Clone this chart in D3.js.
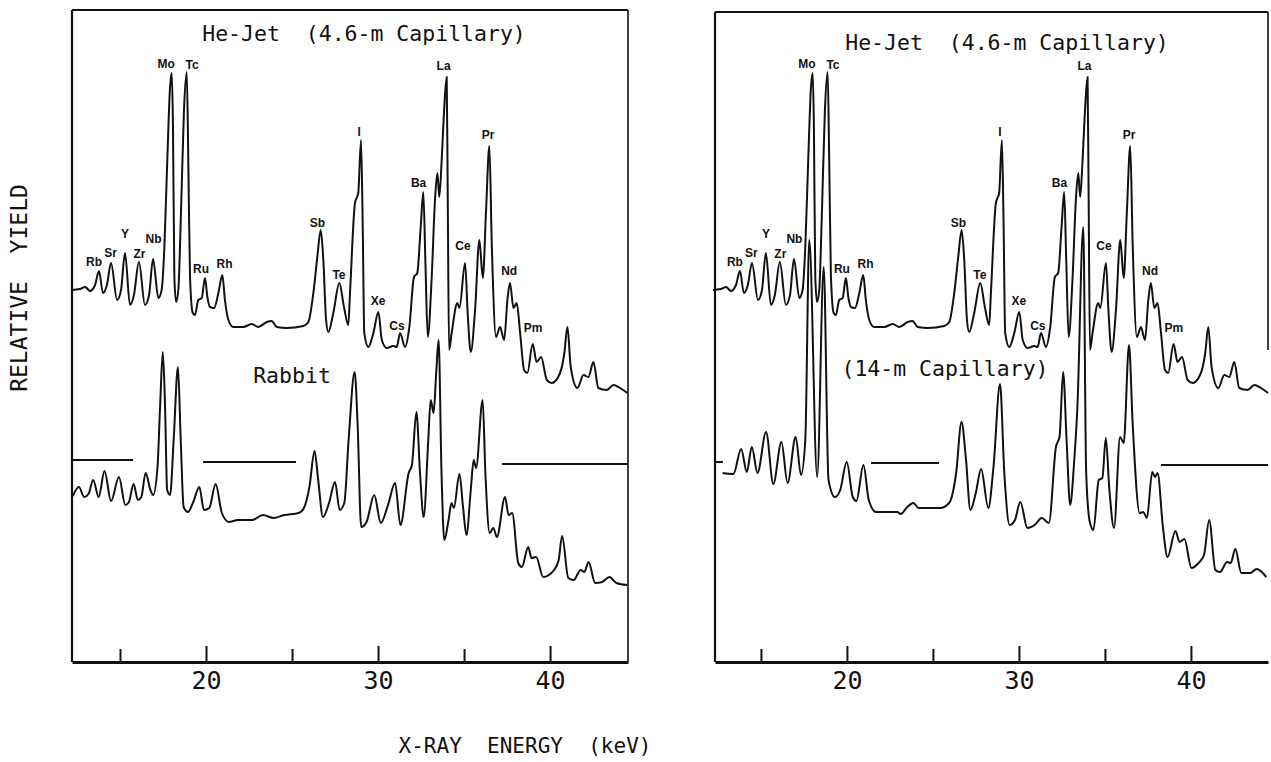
<!DOCTYPE html>
<html>
<head>
<meta charset="utf-8">
<script src="https://cdn.jsdelivr.net/npm/d3@7"></script>
<style>
  body { margin: 0; background: #fff; }
  text { font-family: "DejaVu Sans Mono", monospace; fill: #111; white-space: pre; }
  .tag { font-family: "Liberation Sans", Arial, sans-serif; font-size: 12px; font-weight: bold; }
  .curve { fill: none; stroke: #111; stroke-width: 2; stroke-linejoin: round; }
</style>
</head>
<body>
<svg id="chart" width="1271" height="762"></svg>
<script>
// He-Jet spectrum, 4.6-m capillary (same spectrum in both panels)
var heJetE = [12.21, 12.67, 12.97, 13.26, 13.55, 13.78, 14.01, 14.24, 14.48, 14.83,
  15.06, 15.29, 15.58, 15.81, 16.10, 16.45, 16.69, 16.92, 17.23, 17.42,
  17.58, 17.75, 17.91, 18.01, 18.08, 18.16, 18.26, 18.39, 18.55, 18.72,
  18.88, 18.97, 19.07, 19.23, 19.36, 19.55, 19.75, 19.94, 20.08, 20.23,
  20.47, 20.72, 20.95, 21.10, 21.30, 21.59, 22.17, 22.66, 23.04, 23.53,
  23.82, 24.11, 24.69, 25.66, 25.95, 26.24, 26.47, 26.67, 26.82, 26.98,
  27.11, 27.40, 27.75, 28.02, 28.27, 28.37, 28.66, 28.85, 29.01, 29.11,
  29.20, 29.44, 29.73, 30.02, 30.22, 30.51, 30.89, 31.09, 31.28, 31.57,
  31.82, 32.09, 32.28, 32.48, 32.63, 32.75, 32.89, 33.12, 33.31, 33.45,
  33.56, 33.70, 33.84, 33.99, 34.05, 34.13, 34.28, 34.61, 34.73, 35.06,
  35.21, 35.39, 35.64, 35.89, 36.09, 36.28, 36.47, 36.61, 36.86, 37.09,
  37.33, 37.52, 37.67, 37.87, 38.06, 38.26, 38.49, 38.68, 38.99, 39.22,
  39.48, 39.81, 40.10, 40.58, 40.83, 41.01, 41.20, 41.59, 41.94, 42.23,
  42.52, 42.81, 43.30, 43.68, 44.07, 44.49];
var heJetY = [372, 373, 375, 371, 377, 391, 369, 377, 399, 362,
  372, 409, 357, 367, 400, 357, 367, 403, 364, 372,
  415, 502, 575, 589, 535, 385, 360, 372, 452, 552,
  590, 502, 385, 349, 347, 362, 364, 384, 365, 355,
  354, 369, 387, 362, 342, 335, 335, 338, 335, 340,
  341, 335, 334, 336, 340, 369, 405, 432, 402, 342,
  330, 349, 379, 355, 337, 369, 459, 469, 522, 435,
  329, 315, 329, 350, 322, 314, 316, 315, 329, 315,
  335, 385, 389, 435, 470, 402, 325, 385, 462, 489,
  465, 502, 552, 585, 469, 312, 329, 359, 354, 399,
  349, 310, 352, 422, 384, 452, 516, 419, 325, 335,
  322, 362, 379, 354, 359, 329, 292, 289, 318, 300,
  305, 282, 279, 289, 309, 335, 295, 274, 287, 285,
  300, 274, 272, 277, 274, 269];

// Rabbit spectrum (left panel, lower trace)
var rabbitE = [12.26, 12.61, 12.92, 13.17, 13.44, 13.76, 14.10, 14.48, 14.94, 15.31,
  15.52, 15.79, 16.04, 16.24, 16.49, 16.77, 16.93, 17.18, 17.33, 17.49,
  17.62, 17.74, 17.91, 18.12, 18.37, 18.53, 18.70, 18.95, 19.26, 19.61,
  19.88, 20.19, 20.56, 20.92, 21.33, 21.85, 22.68, 23.31, 23.93, 24.55,
  25.38, 25.69, 26.01, 26.31, 26.52, 26.80, 27.15, 27.50, 27.77, 28.04,
  28.29, 28.64, 28.81, 29.02, 29.33, 29.78, 30.16, 30.58, 30.99, 31.30,
  31.78, 31.97, 32.23, 32.44, 32.65, 32.92, 33.06, 33.23, 33.38, 33.52,
  33.69, 33.85, 34.10, 34.27, 34.41, 34.73, 34.94, 35.14, 35.39, 35.56,
  35.70, 36.08, 36.24, 36.49, 36.70, 36.91, 37.38, 37.59, 37.80, 38.15,
  38.36, 38.73, 38.92, 39.19, 39.60, 40.23, 40.50, 40.70, 41.06, 41.37,
  41.78, 41.99, 42.24, 42.62, 43.03, 43.45, 43.86, 44.48];
var rabbitY = [166, 175, 165, 168, 182, 165, 191, 161, 185, 157,
  160, 178, 162, 165, 189, 172, 167, 195, 255, 310,
  255, 172, 167, 222, 295, 222, 155, 150, 160, 175,
  152, 154, 178, 149, 140, 142, 142, 147, 144, 147,
  149, 154, 175, 211, 182, 145, 159, 180, 152, 159,
  222, 290, 239, 135, 140, 167, 139, 157, 179, 137,
  189, 197, 250, 189, 145, 222, 262, 249, 289, 322,
  189, 122, 142, 159, 154, 188, 155, 127, 172, 202,
  194, 262, 189, 129, 134, 125, 165, 147, 149, 99,
  95, 115, 104, 105, 85, 92, 102, 126, 84, 82,
  92, 90, 100, 79, 80, 85, 79, 77];

// He-Jet spectrum, 14-m capillary (right panel, lower trace)
var cap14E = [12.77, 13.40, 13.85, 14.18, 14.47, 14.80, 15.30, 15.72, 16.19, 16.55,
  17.02, 17.33, 17.58, 17.81, 18.27, 18.65, 18.93, 19.30, 19.61, 19.99,
  20.34, 20.55, 20.96, 21.27, 21.69, 22.31, 22.93, 23.13, 23.51, 23.86,
  24.17, 25.42, 25.94, 26.35, 26.66, 26.91, 27.18, 27.49, 27.80, 28.22,
  28.52, 28.90, 29.15, 29.46, 29.77, 30.08, 30.49, 30.91, 31.33, 31.74,
  32.15, 32.36, 32.57, 32.77, 32.98, 33.19, 33.40, 33.74, 33.91, 34.12,
  34.33, 34.64, 34.85, 35.05, 35.26, 35.53, 35.88, 36.09, 36.40, 36.61,
  37.02, 37.23, 37.44, 37.75, 37.91, 38.06, 38.37, 38.64, 39.10, 39.34,
  39.62, 40.03, 40.44, 40.76, 41.06, 41.42, 41.69, 42.10, 42.31, 42.58,
  42.93, 43.45, 43.82, 44.38];
var cap14Y = [189, 188, 213, 190, 215, 189, 230, 178, 220, 179,
  225, 187, 222, 422, 185, 395, 182, 165, 172, 200,
  165, 161, 197, 162, 150, 150, 150, 148, 155, 159,
  154, 154, 159, 189, 240, 205, 152, 169, 193, 154,
  195, 278, 189, 137, 142, 160, 134, 137, 144, 139,
  215, 225, 290, 222, 157, 195, 255, 435, 189, 140,
  132, 182, 184, 224, 172, 134, 225, 219, 317, 239,
  149, 150, 144, 190, 185, 189, 135, 105, 131, 120,
  123, 94, 99, 107, 142, 92, 90, 100, 99, 113,
  89, 89, 93, 85];

// element labels over the He-Jet peaks
var elements = ["Rb", "Sr", "Y", "Zr", "Nb", "Mo", "Tc", "Ru", "Rh", "Sb",
  "Te", "I", "Xe", "Cs", "Ba", "La", "Ce", "Pr", "Nd", "Pm"];
var elementE = [13.49, 14.45, 15.29, 16.13, 16.95, 17.68, 19.19, 19.71, 21.08, 26.48,
  27.73, 28.90, 30.00, 31.10, 32.36, 33.81, 34.94, 36.40, 37.62, 39.01];
var elementY = [396, 405, 424, 404, 419, 594, 593, 389, 394, 435,
  383, 526, 357, 332, 475, 592, 412, 523, 387, 330];

// horizontal reference marks (start keV, end keV, level)
var rabbitMarkE0 = [12.21, 19.83, 37.21];
var rabbitMarkE1 = [15.76, 25.23, 44.53];
var rabbitMarkY = [202, 200, 198];
var cap14MarkE0 = [12.33, 21.40, 38.26];
var cap14MarkE1 = [12.79, 25.35, 44.48];
var cap14MarkY = [200, 199, 197];

var majorTicks = [20, 30, 40];
var minorTicks = [15, 25, 35];

var svg = d3.select("#chart");
svg.append("rect").attr("width", 1271).attr("height", 762).attr("fill", "#fff");

var panels = [
  { left: 72, right: 628, top: 10, domain: [12.21, 44.53], rightEdge: 662,
    title: "He-Jet  (4.6-m Capillary)", titleX: 364, titleY: 41,
    sub: "Rabbit", subX: 292, subY: 383,
    lowE: rabbitE, lowY: rabbitY, mE0: rabbitMarkE0, mE1: rabbitMarkE1, mY: rabbitMarkY },
  { left: 715, right: 1268, top: 12, domain: [12.33, 44.48], rightEdge: 350,
    title: "He-Jet  (4.6-m Capillary)", titleX: 1007, titleY: 50,
    sub: "(14-m Capillary)", subX: 945, subY: 376,
    lowE: cap14E, lowY: cap14Y, mE0: cap14MarkE0, mE1: cap14MarkE1, mY: cap14MarkY }
];

var bottom = 662;

panels.forEach(function(p) {
  var x = d3.scaleLinear().domain(p.domain).range([p.left, p.right]);
  var y = d3.scaleLinear().domain([0, 650]).range([bottom, 12]);
  var g = svg.append("g");

  var line = d3.line()
    .x(function(d) { return x(d[0]); })
    .y(function(d) { return y(d[1]); })
    .curve(d3.curveMonotoneX);

  // frame
  g.append("line").attr("x1", p.left).attr("x2", p.left).attr("y1", p.top).attr("y2", bottom)
    .attr("stroke", "#111").attr("stroke-width", 2.2);
  g.append("line").attr("x1", p.left).attr("x2", p.right).attr("y1", p.top).attr("y2", p.top)
    .attr("stroke", "#111").attr("stroke-width", 2);
  g.append("line").attr("x1", p.right).attr("x2", p.right).attr("y1", p.top).attr("y2", p.rightEdge)
    .attr("stroke", "#111").attr("stroke-width", 1.6);

  // axis: major ticks with labels, minor ticks without
  var major = d3.axisBottom(x).tickValues(majorTicks).tickSizeInner(-16).tickSizeOuter(0).tickPadding(9);
  var minor = d3.axisBottom(x).tickValues(minorTicks).tickSizeInner(-13).tickSizeOuter(0).tickFormat("");
  var ax = g.append("g").attr("transform", "translate(0," + bottom + ")").call(major);
  ax.select(".domain").attr("stroke", "#111").attr("stroke-width", 3.2);
  ax.selectAll(".tick line").attr("stroke", "#111").attr("stroke-width", 2);
  ax.selectAll(".tick text").attr("font-size", 25).attr("fill", "#111")
    .style("font-family", "'DejaVu Sans Mono', monospace");
  var ax2 = g.append("g").attr("transform", "translate(0," + bottom + ")").call(minor);
  ax2.select(".domain").remove();
  ax2.selectAll(".tick line").attr("stroke", "#111").attr("stroke-width", 2);

  // reference marks
  p.mY.forEach(function(v, i) {
    g.append("line")
      .attr("x1", x(p.mE0[i])).attr("x2", x(p.mE1[i]))
      .attr("y1", y(v)).attr("y2", y(v))
      .attr("stroke", "#111").attr("stroke-width", 2);
  });

  // spectra
  g.append("path").attr("class", "curve").attr("d", line(d3.zip(heJetE, heJetY)));
  g.append("path").attr("class", "curve").attr("d", line(d3.zip(p.lowE, p.lowY)));

  // element labels
  g.selectAll("text.tag").data(elements).enter().append("text")
    .attr("class", "tag")
    .attr("text-anchor", "middle")
    .attr("x", function(d, i) { return x(elementE[i]); })
    .attr("y", function(d, i) { return y(elementY[i]); })
    .text(function(d) { return d; });

  g.append("text").attr("x", p.titleX).attr("y", p.titleY)
    .attr("text-anchor", "middle").attr("font-size", 21.5).text(p.title);
  g.append("text").attr("x", p.subX).attr("y", p.subY)
    .attr("text-anchor", "middle").attr("font-size", 21.5).text(p.sub);
});

svg.append("text").attr("x", 525).attr("y", 753).attr("text-anchor", "middle")
  .attr("font-size", 21)
  .text("X-RAY  ENERGY  (keV)");
svg.append("text").attr("transform", "translate(27,288) rotate(-90)").attr("text-anchor", "middle")
  .attr("font-size", 23)
  .text("RELATIVE  YIELD");
</script>
</body>
</html>
